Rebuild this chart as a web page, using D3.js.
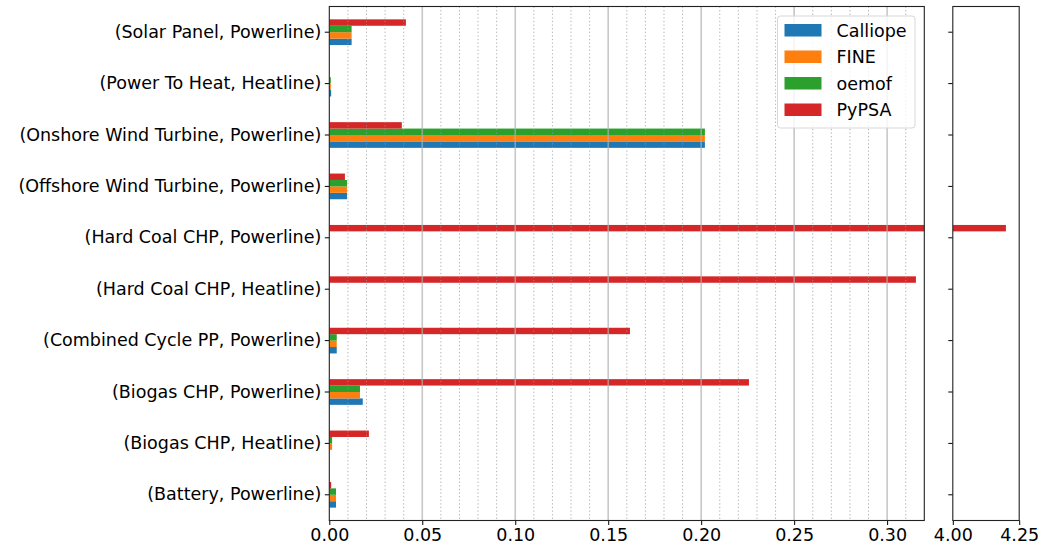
<!DOCTYPE html>
<html>
<head>
<meta charset="utf-8">
<style>
	body { margin: 0; padding: 0; background: #fff; }
	svg { font-family: "DejaVu Sans", sans-serif; }
</style>
<script src="https://cdnjs.cloudflare.com/ajax/libs/d3/7.8.5/d3.min.js"></script>
</head>
<body>
<svg width="1040" height="548"></svg>
<script>
	// categories, top to bottom
	const categories = [
		'(Solar Panel, Powerline)',
		'(Power To Heat, Heatline)',
		'(Onshore Wind Turbine, Powerline)',
		'(Offshore Wind Turbine, Powerline)',
		'(Hard Coal CHP, Powerline)',
		'(Hard Coal CHP, Heatline)',
		'(Combined Cycle PP, Powerline)',
		'(Biogas CHP, Powerline)',
		'(Biogas CHP, Heatline)',
		'(Battery, Powerline)'
	];
	const seriesNames = ['Calliope', 'FINE', 'oemof', 'PyPSA'];
	const colors = ['#1f77b4', '#ff7f0e', '#2ca02c', '#d62728'];

	const calliope = [0.012, 0.001, 0.202, 0.0095, 0, 0, 0.004, 0.018, 0, 0.0036];
	const fine     = [0.012, 0.0008, 0.202, 0.0095, 0, 0, 0.004, 0.0165, 0.0015, 0.0036];
	const oemof    = [0.012, 0.0008, 0.202, 0.0095, 0, 0, 0.004, 0.0165, 0.0015, 0.0036];
	const pypsa    = [0.0412, 0, 0.039, 0.0084, 4.2, 0.3155, 0.1617, 0.2257, 0.0213, 0.001];

	const leftTicks = [0, 0.05, 0.10, 0.15, 0.20, 0.25, 0.30];
	const rightTicks = [4.00, 4.25];

	const values = [calliope, fine, oemof, pypsa];
	const rows = [];
	categories.forEach((c, i) => {
		seriesNames.forEach((s, j) => rows.push({ cat: c, series: s, value: values[j][i], color: colors[j] }));
	});

	const svg = d3.select('svg');
	const yTop = 6.5, yBottom = 520.5;
	const fontSize = 17.5;

	const y = d3.scaleBand().domain(categories).range([yTop, yBottom]).padding(0);
	const bw = y.bandwidth();
	// pandas barh: 0.5 of the band, Calliope at the bottom
	const sub = d3.scaleBand().domain(seriesNames).range([0.75 * bw, 0.25 * bw]);

	function panel(x0, x1, domain, ticks, minorTicks, showLabels, name) {
		const x = d3.scaleLinear().domain(domain).range([x0, x1]);
		const g = svg.append('g');

		g.append('clipPath').attr('id', 'clip-' + name)
			.append('rect').attr('x', x0).attr('y', yTop).attr('width', x1 - x0).attr('height', yBottom - yTop);

		// bars
		g.append('g').attr('clip-path', `url(#clip-${name})`)
			.selectAll('rect').data(rows.filter(d => d.value > domain[0])).enter().append('rect')
			.attr('x', x(domain[0]))
			.attr('y', d => y(d.cat) + sub(d.series))
			.attr('width', d => Math.max(0, x(d.value) - x(domain[0])))
			.attr('height', sub.bandwidth())
			.attr('fill', d => d.color);

		// grid lines (drawn over bars as in matplotlib)
		if (minorTicks) {
			g.append('g').selectAll('line').data(minorTicks).enter().append('line')
				.attr('x1', d => x(d)).attr('x2', d => x(d))
				.attr('y1', yTop).attr('y2', yBottom)
				.attr('stroke', '#999').attr('stroke-width', 1)
				.attr('stroke-dasharray', '1.2,2.4')
				.attr('opacity', 0.8);
			g.append('g').selectAll('line').data(ticks.slice(1)).enter().append('line')
				.attr('x1', d => x(d)).attr('x2', d => x(d))
				.attr('y1', yTop).attr('y2', yBottom)
				.attr('stroke', '#b0b0b0').attr('stroke-width', 1.6)
				.attr('opacity', 0.7);
		}

		// x axis
		const xAxis = g.append('g').attr('transform', `translate(0,${yBottom})`)
			.call(d3.axisBottom(x).tickValues(ticks).tickFormat(d3.format('.2f')).tickSizeOuter(0).tickSize(4.5).tickPadding(3.5));
		xAxis.select('.domain').remove();
		xAxis.selectAll('text').attr('font-size', fontSize).attr('fill', '#000').attr('font-family', '"DejaVu Sans", sans-serif');
		xAxis.selectAll('line').attr('stroke', '#000').attr('stroke-width', 1);

		// y axis
		const yAxis = g.append('g').attr('transform', `translate(${x0},0)`)
			.call(d3.axisLeft(y).tickSizeOuter(0).tickSize(4.5).tickPadding(3.5).tickFormat(showLabels ? (d => d) : ''));
		yAxis.select('.domain').remove();
		yAxis.selectAll('text').attr('font-size', fontSize).attr('fill', '#000').attr('font-family', '"DejaVu Sans", sans-serif');
		yAxis.selectAll('line').attr('stroke', '#000').attr('stroke-width', 1);

		// spines
		g.append('rect').attr('x', x0).attr('y', yTop).attr('width', x1 - x0).attr('height', yBottom - yTop)
			.attr('fill', 'none').attr('stroke', '#222').attr('stroke-width', 1.1);
		return x;
	}

	const minor = d3.range(1, 32).map(i => i / 100).filter(v => Math.round(v * 100) % 5 !== 0);
	panel(329.3, 924.3, [0, 0.32], leftTicks, minor, true, 'left');
	panel(952.8, 1019.2, [4.0, 4.25], rightTicks, null, false, 'right');

	// legend
	const legend = svg.append('g').attr('transform', 'translate(777.5,16)');
	legend.append('rect').attr('width', 137.5).attr('height', 112).attr('rx', 3)
		.attr('fill', '#fff').attr('fill-opacity', 0.8).attr('stroke', '#d8d8d8').attr('stroke-width', 1);
	const items = legend.selectAll('g.item').data(seriesNames).enter().append('g')
		.attr('class', 'item')
		.attr('transform', (d, i) => `translate(7,${8 + i * 26.5})`);
	items.append('rect').attr('width', 37).attr('height', 12.5).attr('fill', (d, i) => colors[i]);
	items.append('text').attr('x', 52).attr('y', 6.5).attr('dy', '0.35em')
		.attr('font-size', fontSize).text(d => d);
</script>
</body>
</html>
